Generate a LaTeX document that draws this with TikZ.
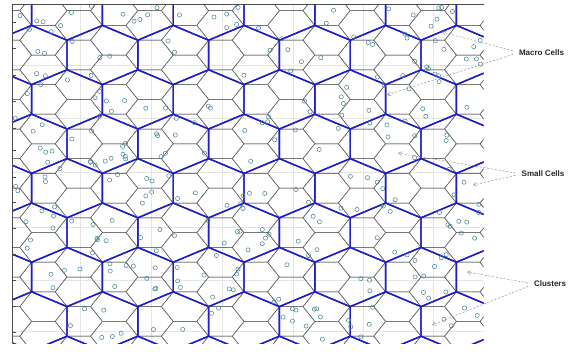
\documentclass[tikz,border=0pt]{standalone}
\usepackage{fontspec}
\setmainfont{Liberation Sans}
\usetikzlibrary{arrows.meta}
\definecolor{usercol}{RGB}{70,128,150}
\definecolor{macroblue}{RGB}{30,30,200}
\begin{document}
\begin{tikzpicture}[x=1pt,y=-1pt,
  macro/.style={draw=macroblue, line width=1.4pt, line join=round},
  smallcell/.style={draw=black!60, line width=0.5pt},
  gridline/.style={draw=black!10, line width=0.6pt},
  frame/.style={draw=black!70, line width=0.6pt},
  user/.style={draw=usercol, line width=0.5pt},
  lbl/.style={font=\fontsize{8}{9}\selectfont\bfseries, inner sep=0pt, text=black!85},
  pointer/.style={draw=black!45, dash pattern=on 2.2pt off 1.6pt, line width=0.45pt,
     shorten <=6pt, -{Straight Barb[length=3.5pt,width=4pt]}}]
\useasboundingbox (0,0) rectangle (585,351);
\fill[white] (0,0) rectangle (585,351);
\begin{scope}
  \clip (12.7,4) rectangle (483.5,343);
  % faint axis grid
  \foreach \gx in {80,151.5,222.5,293,363,433}
    \draw[gridline] (\gx,0) -- (\gx,351);
  \foreach \gy in {65,118,172,227,280,331}
    \draw[gridline] (0,\gy) -- (585,\gy);
  % small cells: flat-top hexagon lattice
  \foreach \i in {0,...,16}{
    \pgfmathsetmacro\cx{-27.4+35.4*\i}
    \ifodd\i \def\cyo{-4.2}\else\def\cyo{10.6}\fi
    \foreach \m in {-1,...,12}{
      \pgfmathsetmacro\cy{\cyo+29.6*\m}
      \draw[smallcell] (\cx-23.6,\cy) -- (\cx-11.8,\cy-14.8) -- (\cx+11.8,\cy-14.8)
        -- (\cx+23.6,\cy) -- (\cx+11.8,\cy+14.8) -- (\cx-11.8,\cy+14.8) -- cycle;
    }
  }
  % macro cells: pointy-top hexagon lattice
  \foreach \n in {0,...,8}{
    \pgfmathsetmacro\my{10.6+44.4*\n}
    \ifodd\n \def\mxo{31.6}\else\def\mxo{67}\fi
    \foreach \k in {-1,...,7}{
      \pgfmathsetmacro\mx{\mxo+70.8*\k}
      \draw[macro] (\mx,\my-29.6) -- (\mx+35.4,\my-14.8) -- (\mx+35.4,\my+14.8)
        -- (\mx,\my+29.6) -- (\mx-35.4,\my+14.8) -- (\mx-35.4,\my-14.8) -- cycle;
    }
  }
  % users
  \pgfmathsetseed{4242}
  \foreach \u in {1,...,280}{
    \pgfmathsetmacro\ux{15+466*rnd}
    \pgfmathsetmacro\uy{6+335*rnd}
    \draw[user] (\ux,\uy) circle[radius=2.1pt];
  }
\end{scope}
% axes frame
\draw[frame] (12.7,343) -- (12.7,4) -- (483.5,4);
\foreach \ty in {22,48,75,101,128,150,177,202,228,254,280,306,332}
  \draw[frame] (12.7,\ty) -- (15.5,\ty);
% labels and pointers
\node[lbl] (macro) at (541.5,52.5) {Macro Cells};
\node[lbl] (smallc) at (543,174) {Small Cells};
\node[lbl] (clust) at (550,284) {Clusters};
\coordinate (m1) at (442,32);
\coordinate (m2) at (387,95);
\coordinate (s1) at (398,153);
\coordinate (s2) at (473,185);
\coordinate (c1) at (467,272);
\coordinate (c2) at (432,325);
\draw[pointer] (macro.west) -- (m1);
\draw[pointer] (macro.west) -- (m2);
\draw[pointer] (smallc.west) -- (s1);
\draw[pointer] (smallc.west) -- (s2);
\draw[pointer] (clust.west) -- (c1);
\draw[pointer] (clust.west) -- (c2);
\end{tikzpicture}
\end{document}
